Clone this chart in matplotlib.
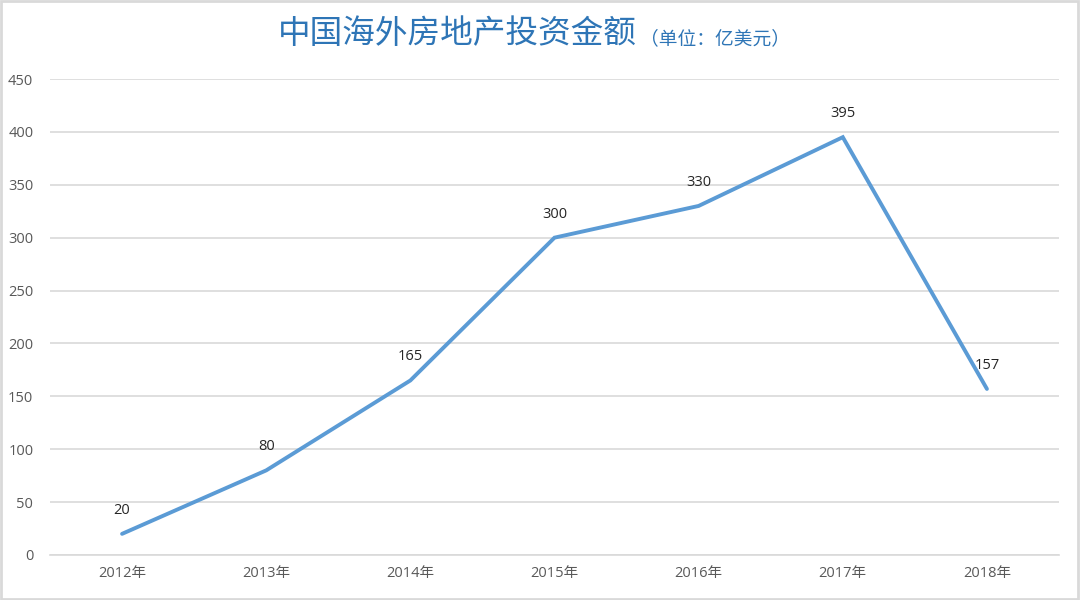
import matplotlib
matplotlib.use("Agg")
import matplotlib.pyplot as plt
from matplotlib.patches import Rectangle

plt.rcParams['font.family'] = ['Open Sans', 'Noto Sans CJK SC', 'DejaVu Sans']

years = ["2012年", "2013年", "2014年", "2015年", "2016年", "2017年", "2018年"]
values = [20, 80, 165, 300, 330, 395, 157]
yticks = [0, 50, 100, 150, 200, 250, 300, 350, 400, 450]

title_main = "中国海外房地产投资金额"
title_unit = "（单位：亿美元）"

fig = plt.figure(figsize=(10.8, 6), dpi=100)
ax = fig.add_axes([50/1080, 1-555/600, (1059-50)/1080, (555-79)/600])

x = list(range(len(years)))
ax.plot(x, values, color="#5B9BD5", lw=2.8, solid_capstyle="round", solid_joinstyle="miter", zorder=3)
for xi, v in zip(x, values):
    ax.annotate(str(v), (xi, v), xytext=(0, 17), textcoords="offset points",
                ha="center", va="center", fontsize=10.5, color="#262626")

ax.set_xlim(-0.5, len(years) - 0.5)
ax.set_ylim(0, 450)
ax.set_yticks(yticks)
ax.set_xticks(x)
ax.set_xticklabels(years, family=['Open Sans', 'Noto Sans CJK SC'])
ax.tick_params(axis='both', length=0, colors="#595959", labelsize=10.5)
ax.tick_params(axis='y', pad=12)
ax.tick_params(axis='x', pad=8)
ax.grid(axis='y', color="#D9D9D9", lw=1.2)
ax.set_axisbelow(True)
for s in ["top", "right", "left"]:
    ax.spines[s].set_visible(False)
ax.spines["bottom"].set_color("#D9D9D9")
ax.spines["bottom"].set_linewidth(1.2)

fig.text(637/1080, 0.943, title_main, ha="right", va="center", fontsize=23.5,
         color="#2E75B6", family=['Noto Sans CJK SC'])
fig.text(640/1080, 0.935, title_unit, ha="left", va="center", fontsize=13.5,
         color="#2E75B6", family=['Noto Sans CJK SC'])

fig.patches.append(Rectangle((0.001, 0.002), 0.997, 0.996, transform=fig.transFigure,
                             fill=False, edgecolor="#D9D9D9", lw=2))

fig.savefig("out.png", dpi=100)
